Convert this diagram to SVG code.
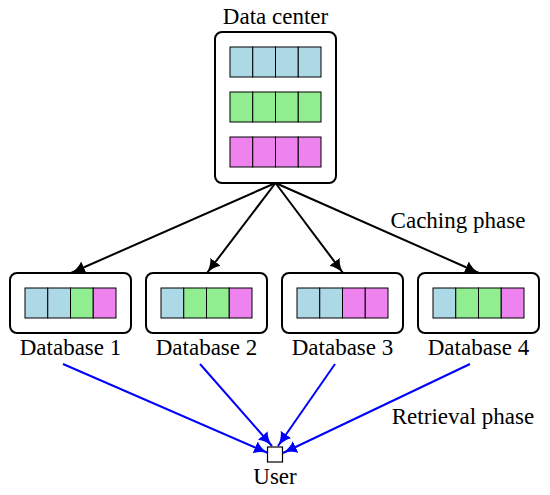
<svg xmlns="http://www.w3.org/2000/svg" width="550" height="495" viewBox="0 0 550 495">
<defs>
<marker id="ak" markerUnits="userSpaceOnUse" markerWidth="16" markerHeight="14" viewBox="0 -7 16 14" refX="14" refY="0" orient="auto">
<path d="M0,-6.5 C3.5,-3 9,-1 14,0 C9,1 3.5,3 0,6.5 Z" fill="#000"/>
</marker>
<marker id="au" markerUnits="userSpaceOnUse" markerWidth="16" markerHeight="14" viewBox="0 -7 16 14" refX="14" refY="0" orient="auto">
<path d="M0,-6.5 C3.5,-3 9,-1 14,0 C9,1 3.5,3 0,6.5 Z" fill="#0000FF"/>
</marker>
<rect id="cb" width="22.75" height="30" fill="#ADD8E6" stroke="#000" stroke-width="1"/>
<rect id="cg" width="22.75" height="30" fill="#90EE90" stroke="#000" stroke-width="1"/>
<rect id="cm" width="22.75" height="30" fill="#EE82EE" stroke="#000" stroke-width="1"/>
</defs>

<g font-family="Liberation Serif" font-size="23" text-anchor="middle" fill="#000">

<g id="datacenter">
<rect x="215" y="32" width="121" height="151" rx="7" fill="#fff" stroke="#000" stroke-width="2"/>
<use href="#cb" x="230" y="47"/><use href="#cb" x="252.75" y="47"/><use href="#cb" x="275.5" y="47"/><use href="#cb" x="298.25" y="47"/>
<use href="#cg" x="230" y="92"/><use href="#cg" x="252.75" y="92"/><use href="#cg" x="275.5" y="92"/><use href="#cg" x="298.25" y="92"/>
<use href="#cm" x="230" y="137"/><use href="#cm" x="252.75" y="137"/><use href="#cm" x="275.5" y="137"/><use href="#cm" x="298.25" y="137"/>
<text x="275.5" y="24">Data center</text>
</g>

<g id="db1">
<rect x="10" y="273" width="121" height="60" rx="7" fill="#fff" stroke="#000" stroke-width="2"/>
<use href="#cb" x="25" y="288"/><use href="#cb" x="47.75" y="288"/><use href="#cg" x="70.5" y="288"/><use href="#cm" x="93.25" y="288"/>
<text x="70.5" y="355">Database 1</text>
</g>

<g id="db2">
<rect x="146" y="273" width="121" height="60" rx="7" fill="#fff" stroke="#000" stroke-width="2"/>
<use href="#cb" x="161" y="288"/><use href="#cg" x="183.75" y="288"/><use href="#cg" x="206.5" y="288"/><use href="#cm" x="229.25" y="288"/>
<text x="206.5" y="355">Database 2</text>
</g>

<g id="db3">
<rect x="282" y="273" width="121" height="60" rx="7" fill="#fff" stroke="#000" stroke-width="2"/>
<use href="#cb" x="297" y="288"/><use href="#cb" x="319.75" y="288"/><use href="#cm" x="342.5" y="288"/><use href="#cm" x="365.25" y="288"/>
<text x="342.5" y="355">Database 3</text>
</g>

<g id="db4">
<rect x="418" y="273" width="121" height="60" rx="7" fill="#fff" stroke="#000" stroke-width="2"/>
<use href="#cb" x="433" y="288"/><use href="#cg" x="455.75" y="288"/><use href="#cg" x="478.5" y="288"/><use href="#cm" x="501.25" y="288"/>
<text x="478.5" y="355">Database 4</text>
</g>

<g id="user">
<rect x="267.5" y="447" width="15" height="15" fill="#fff" stroke="#000" stroke-width="1.2"/>
<text x="275" y="484">User</text>
</g>

<g id="connectors" fill="none" stroke-width="2">
<g stroke="#000" marker-end="url(#ak)">
<path d="M275.5,183 L71,273"/>
<path d="M275.5,183 L207,273"/>
<path d="M275.5,183 L343,273"/>
<path d="M275.5,183 L479,273"/>
</g>
<g stroke="#0000FF" marker-end="url(#au)">
<path d="M63,364 L268,453"/>
<path d="M200,364 L272,446"/>
<path d="M335,364 L278,446"/>
<path d="M470,364 L283,453"/>
</g>
</g>

<text x="458" y="228">Caching phase</text>
<text x="463" y="424">Retrieval phase</text>
</g>
</svg>
